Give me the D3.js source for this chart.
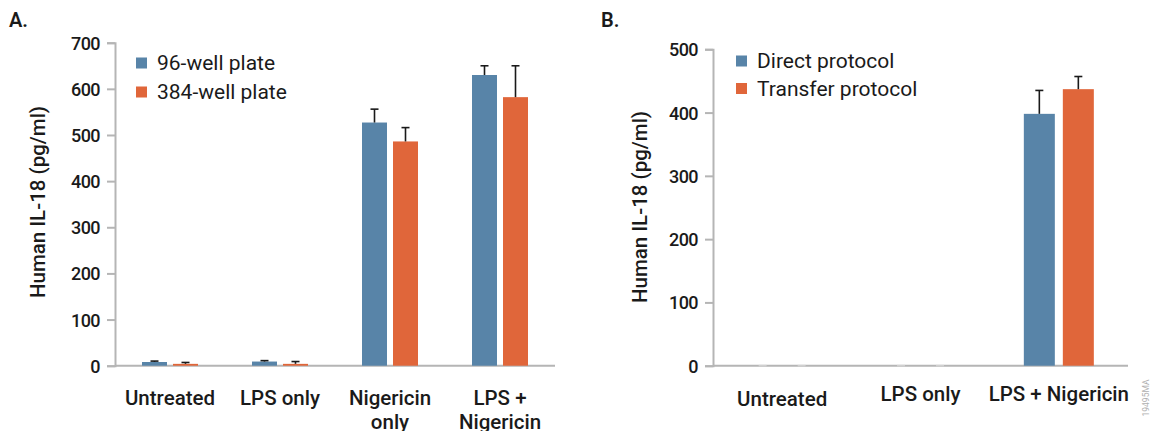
<!DOCTYPE html>
<html>
<head>
<meta charset="utf-8">
<script src="https://cdn.jsdelivr.net/npm/d3@7"></script>
<style>
  body { margin: 0; background: #fff; }
  text { font-family: Roboto, "Noto Sans", sans-serif; fill: #1a1a1a; }
</style>
</head>
<body>
<script>
// panel A data
const catsA = [['Untreated'], ['LPS only'], ['Nigericin', 'only'], ['LPS +', 'Nigericin']]
const seriesA = ['96-well plate', '384-well plate']
const valsA = [[8, 9, 527, 630], [4, 4, 486, 582]]
const errA = [[10, 11, 556, 650], [7, 9, 516, 650]]
const ticksA = [0, 100, 200, 300, 400, 500, 600, 700]

// panel B data
const catsB = ['Untreated', 'LPS only', 'LPS + Nigericin']
const seriesB = ['Direct protocol', 'Transfer protocol']
const valsB = [[0, 0, 398], [0, 0, 437]]
const errB = [[0, 0, 435], [0, 0, 457]]
const ticksB = [0, 100, 200, 300, 400, 500]

const colours = ['#5884a8', '#e0663a']
const axisCol = '#b5b5b5'

const svg = d3.select(document.body).append('svg')
  .attr('width', 1153)
  .attr('height', 431)

function panel(opts) {
  const { x0, x1, yTop, yMax, ticks, cats, vals, errs, series, barW, gap } = opts
  const y = d3.scaleLinear([0, yMax], [365.7, yTop])
  const x = d3.scaleBand(d3.range(cats.length), [x0, x1])
  const g = svg.append('g')

  const yAxis = g.append('g')
    .attr('transform', `translate(${x0},0)`)
    .call(d3.axisLeft(y).tickValues(ticks).tickSize(8).tickPadding(7))
  yAxis.attr('font-family', null).attr('font-size', null)
  yAxis.select('.domain').attr('stroke', axisCol).attr('stroke-width', 2)
  yAxis.selectAll('.tick line').attr('stroke', axisCol).attr('stroke-width', 2)
  yAxis.selectAll('.tick text').attr('font-size', 18).attr('font-weight', 500)
    .attr('letter-spacing', -0.6)
    .attr('fill', '#1a1a1a').attr('dy', '0.36em')

  g.append('line')
    .attr('x1', x0).attr('x2', x1)
    .attr('y1', y(0)).attr('y2', y(0))
    .attr('stroke', axisCol).attr('stroke-width', 2)

  series.forEach((s, si) => {
    const off = si === 0 ? -gap / 2 - barW : gap / 2
    cats.forEach((c, ci) => {
      const cx = x(ci) + x.bandwidth() / 2
      const bx = cx + off
      const v = vals[si][ci]
      const e = errs[si][ci]
      g.append('rect')
        .attr('x', bx).attr('width', barW)
        .attr('y', y(v)).attr('height', y(0) - y(v))
        .attr('fill', colours[si])
      const ex = bx + barW / 2
      const ec = v === 0 ? '#d0d0d0' : '#1a1a1a'
      g.append('line')
        .attr('x1', ex).attr('x2', ex)
        .attr('y1', y(v)).attr('y2', y(e))
        .attr('stroke', ec).attr('stroke-width', 1.6)
      g.append('line')
        .attr('x1', ex - 4).attr('x2', ex + 4)
        .attr('y1', y(e)).attr('y2', y(e))
        .attr('stroke', ec).attr('stroke-width', 1.6)
    })
  })
  return { x, y, g }
}

// --- A ---
const A = panel({
  x0: 115, x1: 555, yTop: 42.7, yMax: 700, ticks: ticksA,
  cats: catsA, vals: valsA, errs: errA, series: seriesA, barW: 25, gap: 6
})
catsA.forEach((lines, ci) => {
  const cx = A.x(ci) + A.x.bandwidth() / 2
  const t = A.g.append('text')
    .attr('text-anchor', 'middle')
    .attr('font-size', 20.5).attr('font-weight', 500)
  lines.forEach((l, li) => {
    t.append('tspan').attr('x', cx).attr('y', 405 + li * 24).text(l)
  })
})

// --- B ---
const B = panel({
  x0: 713, x1: 1128, yTop: 49.3, yMax: 500, ticks: ticksB,
  cats: catsB, vals: valsB, errs: errB, series: seriesB, barW: 31, gap: 8
})
catsB.forEach((l, ci) => {
  const cx = B.x(ci) + B.x.bandwidth() / 2
  B.g.append('text')
    .attr('x', cx).attr('y', ci === 0 ? 406 : 401)
    .attr('text-anchor', 'middle')
    .attr('font-size', 20.5).attr('font-weight', 500)
    .text(l)
})

// axis titles
const titles = [{ x: 38, y: 202 }, { x: 640, y: 207 }]
titles.forEach(t => {
  svg.append('text')
    .attr('transform', `translate(${t.x},${t.y}) rotate(-90)`)
    .attr('text-anchor', 'middle')
    .attr('dominant-baseline', 'central')
    .attr('font-size', 20.5).attr('font-weight', 500)
    .text('Human IL-18 (pg/ml)')
})

// panel letters
svg.append('text').attr('x', 9).attr('y', 27).attr('font-size', 20).attr('font-weight', 600).text('A.')
svg.append('text').attr('x', 601).attr('y', 27).attr('font-size', 20).attr('font-weight', 600).text('B.')

// legends
function legend(x, y, names, rowH) {
  names.forEach((n, i) => {
    svg.append('rect')
      .attr('x', x).attr('y', y + i * rowH - 5.5)
      .attr('width', 11).attr('height', 11)
      .attr('fill', colours[i])
    svg.append('text')
      .attr('x', x + 21).attr('y', y + i * rowH)
      .attr('dominant-baseline', 'central')
      .attr('font-size', 21)
      .text(n)
  })
}
legend(136, 63, seriesA, 29)
legend(736, 61, seriesB, 27.5)

// figure code
svg.append('text')
  .attr('transform', 'translate(1149,398) rotate(-90)')
  .attr('text-anchor', 'middle')
  .attr('font-size', 8.5)
  .style('fill', '#b0b0b0')
  .text('19495MA')
</script>
</body>
</html>
